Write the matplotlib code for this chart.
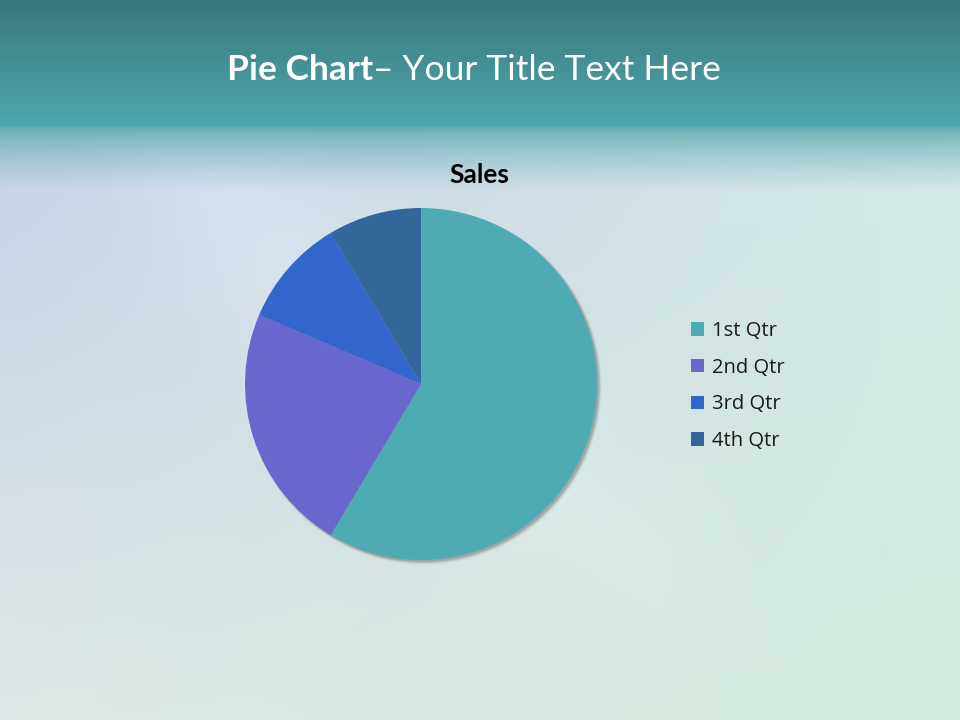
import numpy as np
import matplotlib.pyplot as plt

# chart data
categories = ['1st Qtr', '2nd Qtr', '3rd Qtr', '4th Qtr']
sales = [8.2, 3.2, 1.4, 1.2]
slice_colors = ['#4FABB3', '#6966CE', '#3366CC', '#336699']

W, H = 960, 720

plt.rcParams['font.family'] = ['Lato', 'DejaVu Sans']


def make_background():
    """Slide background: teal header band fading into a pale blue-green body"""
    yy, xx = np.mgrid[0:H, 0:W].astype(float)
    fx = xx / (W - 1)
    fy = np.clip((yy - 130) / (H - 130), 0, 1)

    tl = np.array([200, 210, 230])
    tr = np.array([212, 233, 232])
    bl = np.array([222, 231, 230])
    br = np.array([210, 234, 220])
    body = (tl * ((1 - fx) * (1 - fy))[..., None] + tr * (fx * (1 - fy))[..., None]
            + bl * ((1 - fx) * fy)[..., None] + br * (fx * fy)[..., None])

    # faint lighter sweep running down from the left side
    d = np.hypot(xx - 1100, yy + 450)
    sweep = np.exp(-((d - 1080) / 90) ** 2) * np.clip((760 - xx) / 300, 0, 1)
    body = body + sweep[..., None] * 7

    img = body.copy()

    # header gradient
    top = np.array([56, 121, 125])
    bot = np.array([79, 167, 175])
    t = np.clip(yy / 126, 0, 1)[..., None]
    header = top * (1 - t) + bot * t
    hmask = (yy < 127)[..., None]
    img = np.where(hmask, header, img)

    # soft fade below the header
    band = (yy >= 127) & (yy < 190)
    s = np.clip((yy - 127) / 63, 0, 1) ** 0.7
    fade_col = np.array([100, 172, 180])
    faded = fade_col * (1 - s)[..., None] + body * s[..., None]
    img = np.where(band[..., None], faded, img)
    return np.clip(img, 0, 255).astype(np.uint8)


fig = plt.figure(figsize=(W / 100, H / 100), dpi=100)
bg = fig.add_axes([0, 0, 1, 1])
bg.imshow(make_background(), aspect='auto', extent=[0, W, H, 0])
bg.set_xlim(0, W)
bg.set_ylim(H, 0)
bg.axis('off')

# title: bold part + regular part meeting at the dash
split_x = 373 / W
fig.text(split_x, 1 - 70 / H, 'Pie Chart', ha='right', va='center',
         fontsize=25.5, fontweight='bold', color='white')
fig.text(split_x, 1 - 70 / H, '– Your Title Text Here', ha='left', va='center',
         fontsize=25.5, color='white')

# pie
cx, cy, r = 421, 384, 176
ax = fig.add_axes([(cx - r) / W, 1 - (cy + r) / H, 2 * r / W, 2 * r / H])
ax.axis('off')

# soft drop shadow
for k, a in enumerate([0.05, 0.08, 0.12, 0.18]):
    off = 0.016 - k * 0.002
    ax.add_patch(plt.Circle((off, -off), 1.0 + 0.010 - k * 0.003,
                            color='#404040', alpha=a, lw=0, zorder=0,
                            clip_on=False))

wedges, _ = ax.pie(sales, colors=slice_colors, startangle=90, counterclock=False,
                   radius=1.0, wedgeprops=dict(linewidth=0))
for w in wedges:
    w.set_zorder(2)
ax.set_xlim(-1, 1)
ax.set_ylim(-1, 1)

fig.text(479 / W, 1 - 175 / H, 'Sales', ha='center', va='center',
         fontsize=19, fontweight='bold', color='black')

leg = fig.legend(wedges, categories, loc='center left',
                 bbox_to_anchor=(673 / W, 1 - 386 / H), frameon=False,
                 prop={'family': ['Open Sans', 'DejaVu Sans'], 'size': 14.5},
                 handlelength=0.65, handleheight=0.65,
                 handletextpad=0.4, labelspacing=0.83, labelcolor='#1a1a1a')

fig.savefig('out.png', dpi=100)
